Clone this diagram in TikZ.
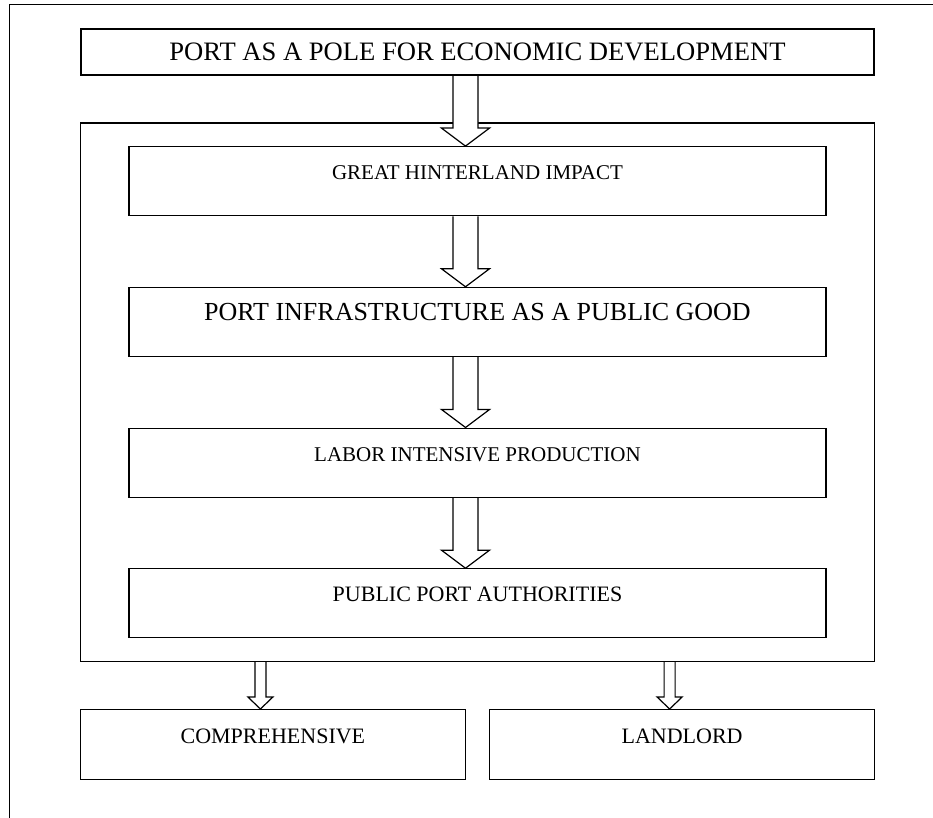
\documentclass[tikz,border=0pt]{standalone}
\usepackage{fontspec}
\setmainfont{Liberation Serif}
\usetikzlibrary{positioning,fit,calc,backgrounds}

\newcommand{\hollowarrow}[6]{%
  \draw[arrowline] ($(#1.south -| #2.north)+(#3-#4,0)$) -- ($(#2.north)+(#3-#4,-#6)$)
    -- ($(#2.north)+(#3-#5,-#6)$) -- ($(#2.north)+(#3,0)$) -- ($(#2.north)+(#3+#5,-#6)$)
    -- ($(#2.north)+(#3+#4,-#6)$) -- ($(#1.south -| #2.north)+(#3+#4,0)$);}

\begin{document}
\begin{tikzpicture}[x=1pt,y=-1pt,node distance=70.5pt,
    box/.style={draw,rectangle,line width=1.2pt,inner sep=0pt},
    titlebox/.style={box,minimum width=793pt,minimum height=46pt,font=\fontsize{26.6}{30}\selectfont},
    stagebox/.style={box,minimum width=697pt,minimum height=69pt,text height=15pt,text depth=18pt},
    typebox/.style={box,minimum width=385pt,minimum height=70pt,text height=15pt,text depth=18pt,font=\fontsize{22}{26}\selectfont},
    arrowline/.style={draw,fill=white,line width=1.2pt}]
  \useasboundingbox (0,0) rectangle (933,818);
  \draw[line width=1pt] (933,5) -- (9,5) -- (9,818);

  \node[titlebox] (pole) at (477.5,52) {PORT AS A POLE FOR ECONOMIC DEVELOPMENT};
  \node[stagebox,below=of pole,font=\fontsize{21}{24}\selectfont] (hinter) {GREAT HINTERLAND IMPACT};
  \node[stagebox,below=of hinter,font=\fontsize{26}{30}\selectfont] (infra) {PORT INFRASTRUCTURE AS A PUBLIC GOOD};
  \node[stagebox,below=of infra,font=\fontsize{21}{24}\selectfont] (labor) {LABOR INTENSIVE PRODUCTION};
  \node[stagebox,below=of labor,font=\fontsize{22}{26}\selectfont] (authority) {PUBLIC PORT AUTHORITIES};

  \begin{scope}[on background layer]
    \node[box,fit=(hinter)(authority),inner xsep=48pt,inner ysep=23pt] (frame) {};
  \end{scope}

  \node[typebox,below right=47pt and 0pt of frame.south west] (comp) {COMPREHENSIVE};
  \node[typebox,below left=47pt and 0pt of frame.south east] (land) {LANDLORD};

  \begin{scope}[on background layer]
    \hollowarrow{pole}{hinter}{-12}{12.5}{24}{18}
    \hollowarrow{hinter}{infra}{-12}{12.5}{24}{18}
    \hollowarrow{infra}{labor}{-12}{12.5}{24}{18}
    \hollowarrow{labor}{authority}{-12}{12.5}{24}{18}
    \hollowarrow{frame}{comp}{-12.5}{5.5}{12.5}{12}
    \hollowarrow{frame}{land}{-12.5}{5.5}{12.5}{12}
  \end{scope}
\end{tikzpicture}
\end{document}
